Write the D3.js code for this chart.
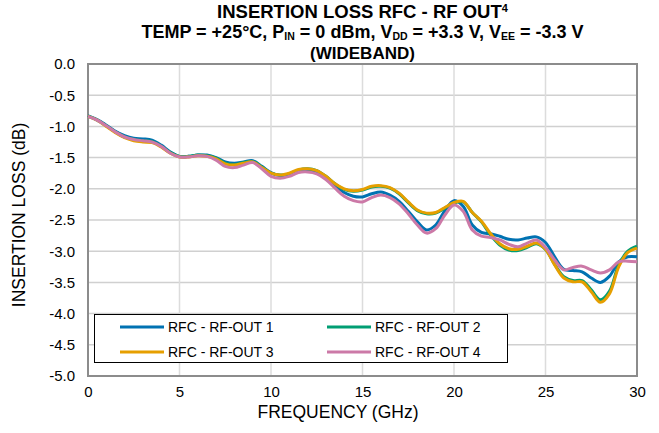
<!DOCTYPE html>
<html>
<head>
<meta charset="utf-8">
<script src="https://cdn.jsdelivr.net/npm/d3@7"></script>
<style>
  body { margin: 0; background: #fff; }
  text { font-family: Arial, "Liberation Sans", sans-serif; fill: #000; }
</style>
</head>
<body>
<svg id="chart" width="659" height="433"></svg>
<script>
// frequency points (GHz)
const freq = [0, 0.5, 1, 1.5, 2, 2.5, 3, 3.5, 4, 4.5, 5, 5.5, 6, 6.5, 7, 7.5, 8, 8.5, 9, 9.5,
  10, 10.5, 11, 11.5, 12, 12.5, 13, 13.5, 14, 14.5, 15, 15.5, 16, 16.5, 17, 17.5, 18, 18.5, 19, 19.5,
  20, 20.5, 21, 21.5, 22, 22.5, 23, 23.5, 24, 24.5, 25, 25.5, 26, 26.5, 27, 27.5, 28, 28.5, 29, 29.5, 30];

const out1 = [-0.83, -0.89, -0.98, -1.08, -1.15, -1.19, -1.20, -1.22, -1.30, -1.41,
  -1.48, -1.48, -1.46, -1.46, -1.50, -1.57, -1.59, -1.57, -1.55, -1.64,
  -1.74, -1.79, -1.77, -1.72, -1.70, -1.73, -1.82, -1.95, -2.06, -2.12,
  -2.13, -2.08, -2.05, -2.10, -2.20, -2.36, -2.53, -2.66, -2.58, -2.35,
  -2.19, -2.28, -2.58, -2.70, -2.72, -2.76, -2.81, -2.82, -2.79, -2.77,
  -2.86, -3.09, -3.29, -3.31, -3.33, -3.43, -3.50, -3.40, -3.17, -3.09, -3.09];

const out2 = [-0.83, -0.90, -0.99, -1.09, -1.17, -1.21, -1.23, -1.24, -1.32, -1.42,
  -1.48, -1.48, -1.46, -1.47, -1.51, -1.59, -1.61, -1.58, -1.56, -1.65,
  -1.75, -1.78, -1.76, -1.70, -1.68, -1.71, -1.80, -1.92, -2.01, -2.04,
  -2.02, -1.97, -1.96, -1.99, -2.08, -2.22, -2.35, -2.40, -2.39, -2.31,
  -2.23, -2.21, -2.38, -2.53, -2.74, -2.90, -2.98, -2.99, -2.94, -2.88,
  -2.97, -3.21, -3.41, -3.47, -3.47, -3.62, -3.78, -3.64, -3.22, -3.00, -2.92];

const out3 = [-0.84, -0.90, -1.00, -1.10, -1.18, -1.23, -1.25, -1.26, -1.33, -1.43,
  -1.49, -1.49, -1.47, -1.48, -1.52, -1.60, -1.62, -1.59, -1.57, -1.66,
  -1.75, -1.78, -1.75, -1.69, -1.68, -1.71, -1.80, -1.92, -2.00, -2.03,
  -2.01, -1.96, -1.95, -1.98, -2.07, -2.21, -2.34, -2.39, -2.38, -2.30,
  -2.22, -2.20, -2.38, -2.52, -2.72, -2.88, -2.96, -2.97, -2.92, -2.87,
  -2.97, -3.22, -3.43, -3.49, -3.49, -3.65, -3.82, -3.68, -3.25, -3.02, -2.95];

const out4 = [-0.84, -0.90, -0.99, -1.09, -1.17, -1.21, -1.23, -1.25, -1.32, -1.43,
  -1.49, -1.49, -1.47, -1.48, -1.54, -1.64, -1.66, -1.62, -1.58, -1.68,
  -1.80, -1.83, -1.80, -1.74, -1.73, -1.76, -1.85, -1.99, -2.12, -2.19,
  -2.21, -2.14, -2.10, -2.14, -2.24, -2.40, -2.58, -2.71, -2.64, -2.42,
  -2.26, -2.36, -2.66, -2.76, -2.78, -2.82, -2.89, -2.93, -2.87, -2.82,
  -2.94, -3.14, -3.30, -3.26, -3.24, -3.30, -3.35, -3.30, -3.17, -3.16, -3.17];

const seriesNames = ["RFC - RF-OUT 1", "RFC - RF-OUT 2", "RFC - RF-OUT 3", "RFC - RF-OUT 4"];
const seriesColors = ["#0072b2", "#009e73", "#e69f00", "#cc79a7"];
const xTicks = [0, 5, 10, 15, 20, 25, 30];
const yTicks = [0, -0.5, -1, -1.5, -2, -2.5, -3, -3.5, -4, -4.5, -5];

const svg = d3.select("#chart");
const plot = { left: 88, right: 637, top: 64, bottom: 376 };

const x = d3.scaleLinear().domain([0, 30]).range([plot.left, plot.right]);
const y = d3.scaleLinear().domain([-5, 0]).range([plot.bottom, plot.top]);

// gridlines
svg.append("g")
  .selectAll("line")
  .data(yTicks)
  .enter()
  .append("line")
  .attr("x1", plot.left)
  .attr("x2", plot.right)
  .attr("y1", d => y(d))
  .attr("y2", d => y(d))
  .attr("stroke", "#d0d0d0")
  .attr("stroke-width", 1.5);

svg.append("g")
  .selectAll("line")
  .data(xTicks)
  .enter()
  .append("line")
  .attr("x1", d => x(d))
  .attr("x2", d => x(d))
  .attr("y1", plot.top)
  .attr("y2", plot.bottom)
  .attr("stroke", "#dcdcdc")
  .attr("stroke-width", 1.5);

// plot frame
svg.append("rect")
  .attr("x", plot.left)
  .attr("y", plot.top)
  .attr("width", plot.right - plot.left)
  .attr("height", plot.bottom - plot.top)
  .attr("fill", "none")
  .attr("stroke", "#8c8c8c")
  .attr("stroke-width", 2);

// tick labels via d3 axes (no lines)
const yAxis = svg.append("g")
  .attr("transform", `translate(${plot.left},0)`)
  .call(d3.axisLeft(y).tickValues(yTicks).tickFormat(d3.format(".1f")).tickSize(0).tickPadding(13));
const xAxis = svg.append("g")
  .attr("transform", `translate(0,${plot.bottom})`)
  .call(d3.axisBottom(x).tickValues(xTicks).tickSize(0).tickPadding(10));
[yAxis, xAxis].forEach(a => {
  a.select(".domain").remove();
  a.selectAll("text")
    .style("font-family", "Arial, 'Liberation Sans', sans-serif")
    .style("font-size", "15px")
    .attr("fill", "#000");
});
yAxis.selectAll("text").text(d => d3.format(".1f")(d).replace("−", "-"));

// lines
const allSeries = [out1, out2, out3, out4];
const line = d3.line()
  .x((d, i) => x(freq[i]))
  .y(d => y(d))
  .curve(d3.curveCatmullRom.alpha(0.5));

svg.append("g")
  .selectAll("path")
  .data(allSeries)
  .enter()
  .append("path")
  .attr("d", d => line(d))
  .attr("fill", "none")
  .attr("stroke", (d, i) => seriesColors[i])
  .attr("stroke-width", 3)
  .attr("stroke-linejoin", "round");

// legend
const legend = svg.append("g");
legend.append("rect")
  .attr("x", 94.5)
  .attr("y", 314.5)
  .attr("width", 413)
  .attr("height", 48)
  .attr("fill", "#fff")
  .attr("stroke", "#000")
  .attr("stroke-width", 1);

const legendItems = legend.selectAll("g.item")
  .data(seriesNames)
  .enter()
  .append("g")
  .attr("class", "item")
  .attr("transform", (d, i) => `translate(${i % 2 === 0 ? 120 : 327},${i < 2 ? 327 : 352})`);
legendItems.append("line")
  .attr("x1", 0)
  .attr("x2", 44)
  .attr("stroke", (d, i) => seriesColors[i])
  .attr("stroke-width", 3);
legendItems.append("text")
  .attr("x", 48)
  .attr("dy", "0.35em")
  .style("font-size", "14px")
  .text(d => d);

// titles
const cx = (plot.left + plot.right) / 2;
const t1 = svg.append("text")
  .attr("x", cx)
  .attr("y", 18)
  .attr("text-anchor", "middle")
  .style("font-size", "18.5px")
  .style("font-weight", "bold");
t1.append("tspan").text("INSERTION LOSS RFC - RF OUT");
t1.append("tspan").attr("dy", -6).style("font-size", "11px").text("4");

const t2 = svg.append("text")
  .attr("x", cx)
  .attr("y", 38)
  .attr("text-anchor", "middle")
  .style("font-size", "18px")
  .style("font-weight", "bold");
const parts = [
  ["TEMP = +25°C, P", 0], ["IN", 1], [" = 0 dBm, V", 0], ["DD", 1],
  [" = +3.3 V, V", 0], ["EE", 1], [" = -3.3 V", 0]
];
let sub = false;
parts.forEach(([s, isSub]) => {
  const ts = t2.append("tspan").text(s);
  if (isSub) ts.style("font-size", "10.5px");
  if (isSub && !sub) { ts.attr("dy", 2); sub = true; }
  else if (!isSub && sub) { ts.attr("dy", -2); sub = false; }
});

svg.append("text")
  .attr("x", cx)
  .attr("y", 59)
  .attr("text-anchor", "middle")
  .style("font-size", "17px")
  .style("font-weight", "bold")
  .text("(WIDEBAND)");

svg.append("text")
  .attr("transform", `translate(25,215) rotate(-90)`)
  .attr("text-anchor", "middle")
  .style("font-size", "17.5px")
  .text("INSERTION LOSS (dB)");

svg.append("text")
  .attr("x", 338)
  .attr("y", 418)
  .attr("text-anchor", "middle")
  .style("font-size", "17.5px")
  .text("FREQUENCY (GHz)");
</script>
</body>
</html>
